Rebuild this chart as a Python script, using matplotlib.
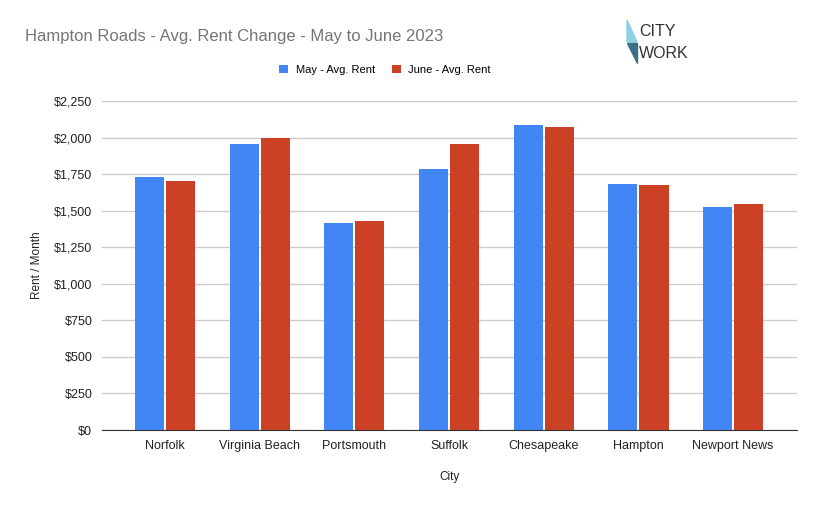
import matplotlib.pyplot as plt
import matplotlib.patches as mpatches
import numpy as np
from matplotlib.ticker import FuncFormatter

plt.rcParams['font.family'] = ['Liberation Sans', 'DejaVu Sans']

cities = ['Norfolk', 'Virginia Beach', 'Portsmouth', 'Suffolk',
          'Chesapeake', 'Hampton', 'Newport News']
may_rent = [1730, 1954, 1413, 1786, 2084, 1684, 1522]
june_rent = [1704, 1995, 1427, 1954, 2070, 1677, 1543]

blue = '#4285f4'
red = '#cc4125'

fig = plt.figure(figsize=(8.22, 5.08), dpi=100)
ax = fig.add_axes([102/822, 78/508, 695/822, 329/508])

x = np.arange(len(cities))
w = 0.307
ax.bar(x - 0.164, may_rent, w, color=blue, label='May - Avg. Rent', zorder=3)
ax.bar(x + 0.164, june_rent, w, color=red, label='June - Avg. Rent', zorder=3)

ax.set_xlim(-0.665, 6.674)
ax.set_ylim(0, 2250)
ax.set_yticks(np.arange(0, 2251, 250))
ax.yaxis.set_major_formatter(FuncFormatter(lambda v, p: '${:,.0f}'.format(v)))
ax.set_xticks(x)
ax.set_xticklabels(cities)
ax.tick_params(axis='both', length=0, labelsize=9, colors='#222222')
ax.tick_params(axis='y', pad=7)
ax.tick_params(axis='x', pad=7)
ax.grid(axis='y', color='#cccccc', linewidth=1, zorder=0)
for s in ['top', 'right', 'left']:
    ax.spines[s].set_visible(False)
ax.spines['bottom'].set_color('#333333')
ax.spines['bottom'].set_zorder(4)

ax.set_ylabel('Rent / Month', fontsize=8.5, color='#222222', labelpad=8)
ax.set_xlabel('City', fontsize=8.5, color='#222222', labelpad=14)

fig.text(25/822, 1 - 36/508, 'Hampton Roads - Avg. Rent Change - May to June 2023',
         fontsize=12, color='#757575', va='center', ha='left')

leg = fig.legend(loc='center', bbox_to_anchor=(385/822, 1 - 70/508), ncol=2,
                 frameon=False, fontsize=8, handlelength=0.8, handleheight=0.8,
                 columnspacing=1.5, handletextpad=0.7)

# CITY WORK logo
fig.patches.append(mpatches.Polygon([[627/822, 1 - 20/508], [637/822, 1 - 42/508],
                                     [627/822, 1 - 42/508]], closed=True,
                                    transform=fig.transFigure, color='#8ecfe6'))
fig.patches.append(mpatches.Polygon([[627/822, 1 - 43/508], [637/822, 1 - 43/508],
                                     [637/822, 1 - 63/508]], closed=True,
                                    transform=fig.transFigure, color='#3d6f86'))
fig.text(639/822, 1 - 31/508, 'CITY', fontsize=11.5, color='#333333',
         va='center', ha='left', fontweight='light')
fig.text(639/822, 1 - 54/508, 'WORK', fontsize=11.5, color='#333333',
         va='center', ha='left', fontweight='light')

fig.savefig('out.png', dpi=100)
